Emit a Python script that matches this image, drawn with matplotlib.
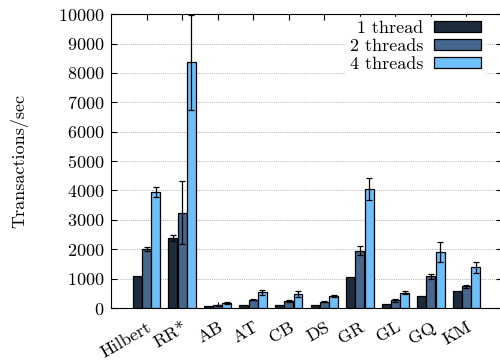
import matplotlib
matplotlib.use("Agg")
import matplotlib.pyplot as plt
import numpy as np

plt.rcParams['font.family'] = ['cmr10', 'DejaVu Serif']
plt.rcParams['mathtext.fontset'] = 'cm'
plt.rcParams['axes.formatter.use_mathtext'] = True

categories = ["Hilbert", "RR*", "AB", "AT", "CB", "DS", "GR", "GL", "GQ", "KM"]
series_names = ["1 thread", "2 threads", "4 threads"]
t1 = [1090, 2380, 55, 100, 100, 100, 1045, 135, 410, 565]
t2 = [2005, 3250, 90, 280, 240, 215, 1950, 260, 1075, 735]
t4 = [3945, 8360, 180, 530, 465, 410, 4050, 520, 1915, 1380]
e1 = [0, 90, 0, 0, 0, 0, 0, 0, 0, 0]
e2 = [70, 1060, 20, 20, 40, 20, 150, 40, 95, 45]
e4 = [160, 1620, 30, 90, 105, 20, 390, 50, 340, 190]
y_ticks = list(range(0, 10001, 1000))

colors = ["#1e2b3c", "#46688e", "#6ebefa"]
fs = 13

fig = plt.figure(figsize=(5.0, 3.62), dpi=100)
ax = fig.add_axes([0.222, 0.149, 0.782, 0.812])

x = np.arange(len(categories))
w = 0.25
step = 0.26
for i, (vals, errs) in enumerate(zip([t1, t2, t4], [e1, e2, e4])):
    ax.bar(x + (i - 1) * step, vals, width=w, color=colors[i], edgecolor='black',
           linewidth=0.9, label=series_names[i], zorder=3,
           yerr=[e if e > 0 else np.nan for e in errs],
           error_kw=dict(ecolor='black', elinewidth=0.9, capsize=2.5, capthick=0.9, zorder=4))

ax.set_xlim(-1, 10)
ax.set_ylim(0, 10000)
ax.set_yticks(y_ticks)
ax.set_xticks(x)
ax.set_xticklabels(categories, rotation=30, ha='right', rotation_mode='anchor')
ax.tick_params(axis='both', direction='in', top=True, right=True, labelsize=fs, length=4)
ax.tick_params(axis='x', pad=8)
ax.tick_params(axis='y', pad=5)
ax.yaxis.grid(True, linestyle=(0, (1, 1.2)), color='#b0b0b0', linewidth=0.7, zorder=0)
ax.set_axisbelow(True)
ax.set_ylabel("Transactions/sec", fontsize=fs, labelpad=21)

leg = ax.legend(loc='upper right', bbox_to_anchor=(0.956, 0.99), markerfirst=False,
                frameon=True, fancybox=False, framealpha=1, edgecolor='white',
                facecolor='white', fontsize=fs, handlelength=2.6, handleheight=0.55,
                labelspacing=0.15, handletextpad=0.6, borderpad=0.2, borderaxespad=0)
leg.set_zorder(5)

fig.savefig("out.png", dpi=100)
